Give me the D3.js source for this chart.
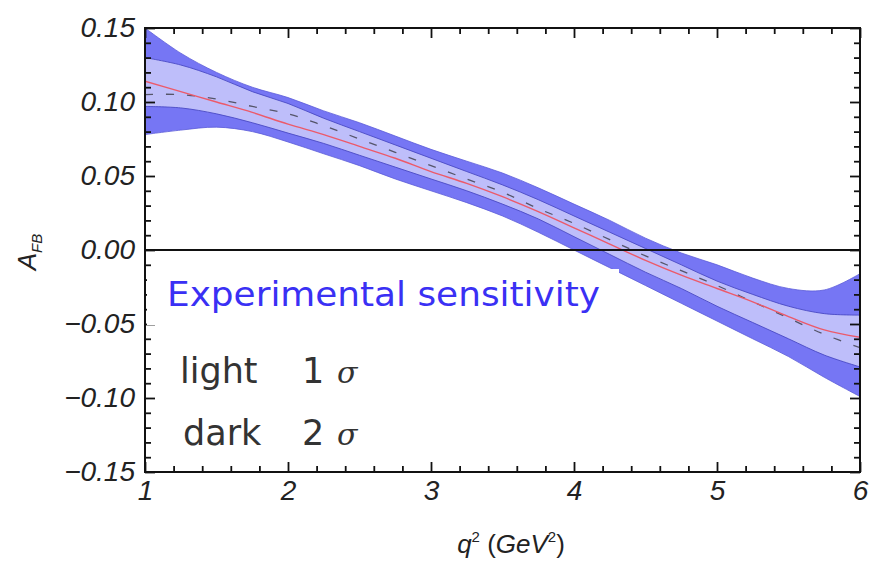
<!DOCTYPE html>
<html>
<head>
<meta charset="utf-8">
<script src="https://cdn.jsdelivr.net/npm/d3@7"></script>
<style>
  body { margin: 0; background: #fff; }
</style>
</head>
<body>
<div id="chart"></div>
<script>
(() => {
    // q^2 sample points (GeV^2)
    const q2 = [1, 1.25, 1.5, 1.75, 2, 2.25, 2.5, 2.75, 3, 3.25, 3.5, 3.75, 4, 4.25, 4.5, 4.75, 5, 5.25, 5.5, 5.75, 6];

    // 2 sigma band (dark)
    const outerUpper = [0.150, 0.133, 0.120, 0.110, 0.103, 0.094, 0.086, 0.077, 0.068, 0.060, 0.052, 0.042, 0.031, 0.020, 0.008, -0.002, -0.010, -0.019, -0.026, -0.027, -0.016];
    const outerLower = [0.078, 0.081, 0.083, 0.080, 0.073, 0.065, 0.057, 0.048, 0.040, 0.032, 0.023, 0.012, 0.000, -0.012, -0.024, -0.036, -0.048, -0.060, -0.072, -0.086, -0.099];

    // 1 sigma band (light)
    const lightUpper = [0.130, 0.125, 0.117, 0.107, 0.099, 0.089, 0.080, 0.071, 0.062, 0.053, 0.044, 0.034, 0.023, 0.012, 0.001, -0.010, -0.021, -0.030, -0.038, -0.043, -0.044];
    const lightLower = [0.097, 0.096, 0.092, 0.086, 0.079, 0.072, 0.064, 0.056, 0.048, 0.040, 0.031, 0.021, 0.009, -0.003, -0.015, -0.026, -0.038, -0.049, -0.060, -0.071, -0.079];

    // central curves
    const central = [0.114, 0.107, 0.100, 0.093, 0.085, 0.078, 0.070, 0.062, 0.053, 0.045, 0.036, 0.026, 0.015, 0.004, -0.007, -0.017, -0.026, -0.035, -0.045, -0.054, -0.059];
    const reference = [0.105, 0.105, 0.102, 0.097, 0.092, 0.084, 0.075, 0.066, 0.057, 0.048, 0.039, 0.028, 0.018, 0.007, -0.004, -0.014, -0.024, -0.035, -0.046, -0.057, -0.066];

    // ticks
    const xMajor = [1, 2, 3, 4, 5, 6];
    const yMajor = [-0.15, -0.10, -0.05, 0.00, 0.05, 0.10, 0.15];

    const width = 870;
    const height = 564;
    const left = 145, right = 860, top = 28, bottom = 472;
    const sans = "Liberation Sans, Arial, sans-serif";
    const dejavu = "DejaVu Sans, sans-serif";

    const svg = d3.select("#chart").append("svg")
        .attr("width", width)
        .attr("height", height);

    const x = d3.scaleLinear().domain([1, 6]).range([left, right]);
    const y = d3.scaleLinear().domain([-0.15, 0.15]).range([bottom, top]);

    const xMinor = d3.range(1, 6.001, 0.2).filter(v => !xMajor.some(m => Math.abs(m - v) < 1e-6));
    const yMinor = d3.range(-0.15, 0.1501, 0.01).filter(v => !yMajor.some(m => Math.abs(m - v) < 1e-6));

    svg.append("clipPath").attr("id", "plotclip")
        .append("rect")
        .attr("x", left).attr("y", top)
        .attr("width", right - left).attr("height", bottom - top);

    const plot = svg.append("g").attr("clip-path", "url(#plotclip)");

    /****************** bands ******************/
    const curve = d3.curveCatmullRom.alpha(0.5);

    const band = (lo, hi) => d3.area()
        .curve(curve)
        .x((d, i) => x(q2[i]))
        .y0((d, i) => y(lo[i]))
        .y1((d, i) => y(hi[i]));

    plot.append("path")
        .datum(q2)
        .attr("d", band(outerLower, outerUpper))
        .attr("fill", "#7676f4")
        .attr("stroke", "#5a5ad8")
        .attr("stroke-width", 0.8);

    plot.append("path")
        .datum(q2)
        .attr("d", band(lightLower, lightUpper))
        .attr("fill", "#bebefa")
        .attr("stroke", "#4a4ac4")
        .attr("stroke-width", 0.9);

    const line = vals => d3.line()
        .curve(curve)
        .x((d, i) => x(q2[i]))
        .y((d, i) => y(vals[i]));

    plot.append("path")
        .datum(q2)
        .attr("d", line(reference))
        .attr("fill", "none")
        .attr("stroke", "#55556a")
        .attr("stroke-width", 1.3)
        .attr("stroke-dasharray", "8,13");

    plot.append("path")
        .datum(q2)
        .attr("d", line(central))
        .attr("fill", "none")
        .attr("stroke", "#ec5a6a")
        .attr("stroke-width", 1.4);

    // zero line
    svg.append("line")
        .attr("x1", left).attr("x2", right)
        .attr("y1", y(0)).attr("y2", y(0))
        .attr("stroke", "#111")
        .attr("stroke-width", 2);

    /****************** frame + ticks ******************/
    function addAxis(axisFn, transform, values, size, withLabels, fmt, pad) {
        const g = svg.append("g")
            .attr("transform", transform)
            .call(axisFn
                .tickValues(values)
                .tickSize(-size)
                .tickPadding(pad || 0)
                .tickFormat(withLabels ? fmt : ""));
        g.select(".domain").remove();
        g.selectAll("line").attr("stroke", "#111").attr("stroke-width", 1.8);
        return g;
    }

    const yfmt = d3.format(".2f");
    const xfmt = d3.format("d");

    // left
    const yl = addAxis(d3.axisLeft(y), `translate(${left},0)`, yMajor, 10, true, yfmt, 10);
    addAxis(d3.axisLeft(y), `translate(${left},0)`, yMinor, 6, false);
    // right
    addAxis(d3.axisRight(y), `translate(${right},0)`, yMajor, 10, false);
    addAxis(d3.axisRight(y), `translate(${right},0)`, yMinor, 6, false);
    // bottom
    const xb = addAxis(d3.axisBottom(x), `translate(0,${bottom})`, xMajor, 10, true, xfmt, 8);
    addAxis(d3.axisBottom(x), `translate(0,${bottom})`, xMinor, 6, false);
    // top
    addAxis(d3.axisTop(x), `translate(0,${top})`, xMajor, 10, false);
    addAxis(d3.axisTop(x), `translate(0,${top})`, xMinor, 6, false);

    [yl, xb].forEach(g => g.selectAll("text")
        .attr("font-size", 28)
        .attr("font-style", "italic")
        .attr("fill", "#222")
        .attr("font-family", sans));

    /****************** legend box ******************/
    svg.append("rect")
        .attr("x", left + 2).attr("y", 269)
        .attr("width", 619 - left - 2).attr("height", 56)
        .attr("fill", "#fff");

    svg.append("text")
        .attr("x", 167).attr("y", 306)
        .attr("font-family", dejavu)
        .attr("font-size", 34)
        .attr("fill", "#3a30f4")
        .attr("textLength", 433)
        .attr("lengthAdjust", "spacingAndGlyphs")
        .text("Experimental sensitivity");

    frame();

    const legendRows = [["light", "1", 383, 180], ["dark", "2", 445, 183]];
    legendRows.forEach(r => {
        svg.append("text")
            .attr("x", r[3]).attr("y", r[2])
            .attr("font-family", dejavu)
            .attr("font-size", 35)
            .attr("fill", "#333")
            .text(r[0]);
        svg.append("text")
            .attr("x", 302).attr("y", r[2])
            .attr("font-family", dejavu)
            .attr("font-size", 35)
            .attr("fill", "#333")
            .text(r[1]);
        svg.append("text")
            .attr("x", 337).attr("y", r[2])
            .attr("font-family", "DejaVu Serif, serif")
            .attr("font-style", "italic")
            .attr("font-size", 30)
            .attr("fill", "#333")
            .text("σ");
    });

    function frame() {
        svg.append("rect")
            .attr("x", left).attr("y", top)
            .attr("width", right - left).attr("height", bottom - top)
            .attr("fill", "none")
            .attr("stroke", "#111")
            .attr("stroke-width", 2);
    }

    /****************** axis titles ******************/
    const xt = svg.append("text")
        .attr("x", 511).attr("y", 553)
        .attr("text-anchor", "middle")
        .attr("font-family", sans)
        .attr("font-size", 26)
        .attr("fill", "#222");
    xt.append("tspan").attr("font-style", "italic").text("q");
    xt.append("tspan").attr("font-size", 15).attr("dy", -11).text("2");
    xt.append("tspan").attr("dy", 11).text(" (");
    xt.append("tspan").attr("font-style", "italic").text("GeV");
    xt.append("tspan").attr("font-size", 15).attr("dy", -11).text("2");
    xt.append("tspan").attr("dy", 11).text(")");

    const yt = svg.append("text")
        .attr("transform", "translate(36,252) rotate(-90)")
        .attr("text-anchor", "middle")
        .attr("font-family", sans)
        .attr("font-size", 26)
        .attr("fill", "#222");
    yt.append("tspan").attr("font-style", "italic").text("A");
    yt.append("tspan").attr("font-size", 15).attr("dy", 6).attr("font-style", "italic").text("FB");
})()
</script>
</body>
</html>
